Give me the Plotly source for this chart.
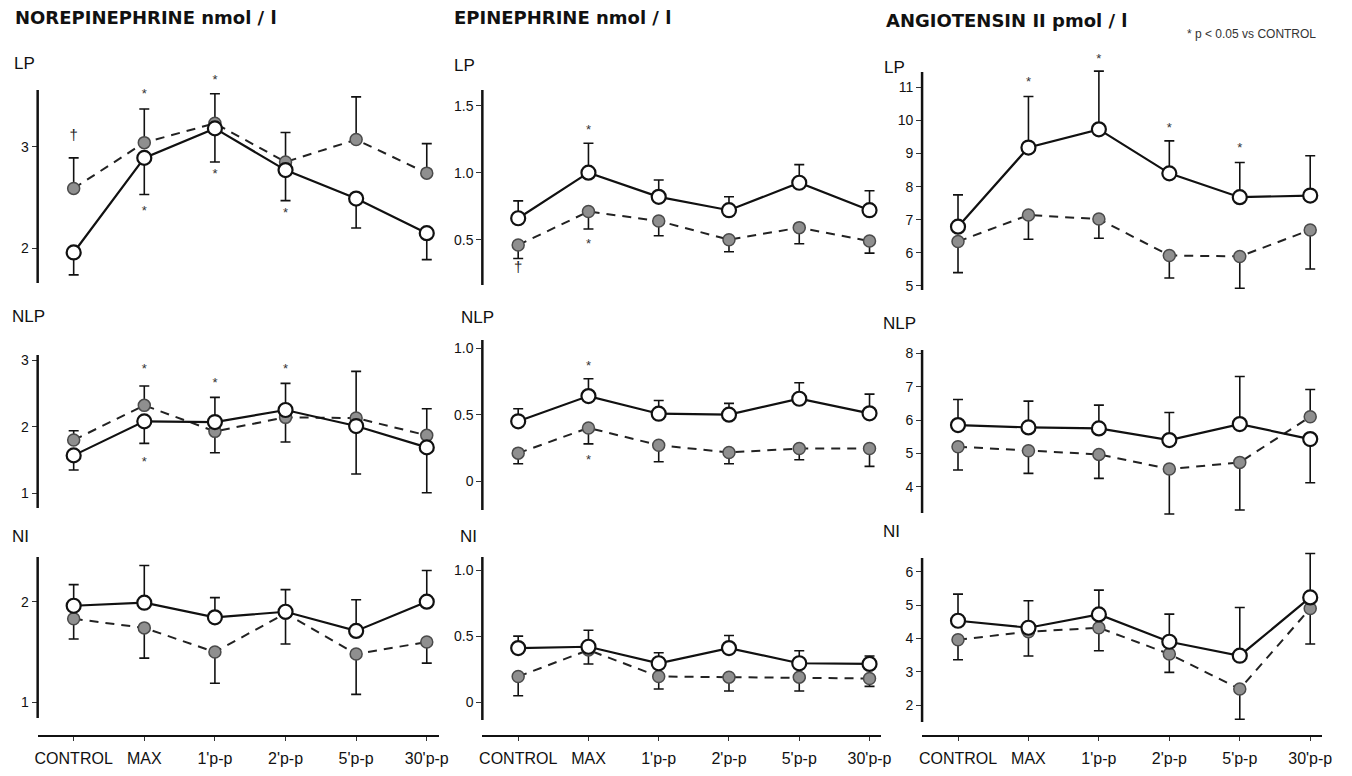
import plotly.graph_objects as go

# ---------------- data ----------------
categories = ["CONTROL", "MAX", "1'p-p", "2'p-p", "5'p-p", "30'p-p"]
hormones = ["NOREPINEPHRINE nmol / l", "EPINEPHRINE nmol / l", "ANGIOTENSIN II pmol / l"]
groups = ["LP", "NLP", "NI"]

# open circles (solid line); error: + = bar upward, - = bar downward
NE_LP_open = [1.96, 2.89, 3.18, 2.77, 2.49, 2.15]
NE_LP_open_err = [-0.22, -0.36, -0.33, -0.30, -0.29, -0.26]
NE_LP_fill = [2.59, 3.04, 3.23, 2.85, 3.07, 2.74]
NE_LP_fill_err = [0.30, 0.33, 0.29, 0.29, 0.42, 0.29]

EPI_LP_open = [0.66, 1.00, 0.82, 0.72, 0.925, 0.72]
EPI_LP_open_err = [0.13, 0.22, 0.125, 0.10, 0.135, 0.145]
EPI_LP_fill = [0.46, 0.71, 0.64, 0.50, 0.59, 0.49]
EPI_LP_fill_err = [-0.10, -0.13, -0.11, -0.09, -0.12, -0.09]

ANG_LP_open = [6.79, 9.18, 9.73, 8.40, 7.68, 7.73]
ANG_LP_open_err = [0.96, 1.54, 1.76, 0.98, 1.05, 1.20]
ANG_LP_fill = [6.34, 7.14, 7.02, 5.92, 5.89, 6.69]
ANG_LP_fill_err = [-0.94, -0.73, -0.58, -0.68, -0.96, -1.18]

NE_NLP_open = [1.57, 2.08, 2.07, 2.25, 2.01, 1.69]
NE_NLP_open_err = [-0.22, -0.33, 0.37, 0.40, -0.72, -0.68]
NE_NLP_fill = [1.80, 2.32, 1.93, 2.14, 2.13, 1.87]
NE_NLP_fill_err = [0.14, 0.29, -0.32, -0.37, 0.70, 0.40]

EPI_NLP_open = [0.45, 0.64, 0.507, 0.50, 0.62, 0.51]
EPI_NLP_open_err = [0.095, 0.13, 0.10, 0.085, 0.12, 0.145]
EPI_NLP_fill = [0.21, 0.40, 0.27, 0.215, 0.245, 0.245]
EPI_NLP_fill_err = [-0.08, -0.12, -0.125, -0.085, -0.085, -0.135]

ANG_NLP_open = [5.85, 5.78, 5.75, 5.40, 5.88, 5.43]
ANG_NLP_open_err = [0.77, 0.79, 0.70, 0.83, 1.43, -1.31]
ANG_NLP_fill = [5.20, 5.08, 4.97, 4.53, 4.73, 6.10]
ANG_NLP_fill_err = [-0.70, -0.68, -0.72, -1.35, -1.43, 0.82]

NE_NI_open = [1.96, 1.99, 1.845, 1.90, 1.71, 2.00]
NE_NI_open_err = [0.21, 0.37, 0.195, 0.22, 0.31, 0.31]
NE_NI_fill = [1.83, 1.74, 1.50, 1.885, 1.48, 1.60]
NE_NI_fill_err = [-0.20, -0.30, -0.31, -0.305, -0.40, -0.21]

EPI_NI_open = [0.41, 0.42, 0.295, 0.41, 0.295, 0.29]
EPI_NI_open_err = [0.09, 0.125, 0.08, 0.095, 0.095, 0.06]
EPI_NI_fill = [0.195, 0.395, 0.195, 0.19, 0.19, 0.18]
EPI_NI_fill_err = [-0.145, -0.105, -0.095, -0.105, -0.105, -0.06]

ANG_NI_open = [4.53, 4.32, 4.72, 3.90, 3.48, 5.23]
ANG_NI_open_err = [0.80, 0.81, 0.73, 0.83, 1.45, 1.32]
ANG_NI_fill = [3.96, 4.20, 4.32, 3.53, 2.48, 4.90]
ANG_NI_fill_err = [-0.60, -0.73, -0.69, -0.55, -0.91, -1.07]

# significance marks: (category index, y value)
NE_LP_star_x = [1, 1, 2, 2, 3]
NE_LP_star_y = [3.51, 2.36, 3.65, 2.72, 2.34]
NE_LP_dagger_x = [0]
NE_LP_dagger_y = [3.10]
EPI_LP_star_x = [1, 1]
EPI_LP_star_y = [1.31, 0.465]
EPI_LP_dagger_x = [0]
EPI_LP_dagger_y = [0.29]
ANG_LP_star_x = [1, 2, 3, 4]
ANG_LP_star_y = [11.14, 11.82, 9.76, 9.13]
NE_NLP_star_x = [1, 1, 2, 3]
NE_NLP_star_y = [2.86, 1.46, 2.65, 2.86]
EPI_NLP_star_x = [1, 1]
EPI_NLP_star_y = [0.864, 0.155]

# y tick values per panel (row-major)
NE_LP_ticks = [2, 3]
EPI_LP_ticks = [0.5, 1.0, 1.5]
ANG_LP_ticks = [5, 6, 7, 8, 9, 10, 11]
NE_NLP_ticks = [1, 2, 3]
EPI_NLP_ticks = [0, 0.5, 1.0]
ANG_NLP_ticks = [4, 5, 6, 7, 8]
NE_NI_ticks = [1, 2]
EPI_NI_ticks = [0, 0.5, 1.0]
ANG_NI_ticks = [2, 3, 4, 5, 6]

panels = [
    (NE_LP_open, NE_LP_open_err, NE_LP_fill, NE_LP_fill_err, NE_LP_ticks),
    (EPI_LP_open, EPI_LP_open_err, EPI_LP_fill, EPI_LP_fill_err, EPI_LP_ticks),
    (ANG_LP_open, ANG_LP_open_err, ANG_LP_fill, ANG_LP_fill_err, ANG_LP_ticks),
    (NE_NLP_open, NE_NLP_open_err, NE_NLP_fill, NE_NLP_fill_err, NE_NLP_ticks),
    (EPI_NLP_open, EPI_NLP_open_err, EPI_NLP_fill, EPI_NLP_fill_err, EPI_NLP_ticks),
    (ANG_NLP_open, ANG_NLP_open_err, ANG_NLP_fill, ANG_NLP_fill_err, ANG_NLP_ticks),
    (NE_NI_open, NE_NI_open_err, NE_NI_fill, NE_NI_fill_err, NE_NI_ticks),
    (EPI_NI_open, EPI_NI_open_err, EPI_NI_fill, EPI_NI_fill_err, EPI_NI_ticks),
    (ANG_NI_open, ANG_NI_open_err, ANG_NI_fill, ANG_NI_fill_err, ANG_NI_ticks),
]
stars = {0: (NE_LP_star_x, NE_LP_star_y), 1: (EPI_LP_star_x, EPI_LP_star_y),
         2: (ANG_LP_star_x, ANG_LP_star_y), 3: (NE_NLP_star_x, NE_NLP_star_y),
         4: (EPI_NLP_star_x, EPI_NLP_star_y)}
daggers = {0: (NE_LP_dagger_x, NE_LP_dagger_y), 1: (EPI_LP_dagger_x, EPI_LP_dagger_y)}

# ---------------- layout geometry (pixels) ----------------
W, H = 1352, 776
FONT = "Liberation Sans, Arial, Helvetica, sans-serif"


def fx(p):
    return p / W


def fy(p):
    return 1 - p / H


col_px = [(35, 440), (484, 887), (928, 1332)]
# (reference tick value, its pixel row, pixels per unit, axis line top px, axis line bottom px)
y_geom = [
    (3.0, 146.7, 101.7, 90, 283), (1.0, 172.7, 134.0, 90, 285), (11.0, 87.3, 33.1, 72, 290),
    (2.0, 426.7, 66.7, 355, 508), (0.0, 481.0, 132.7, 340, 510), (4.0, 486.7, 33.3, 350, 513),
    (2.0, 601.7, 100.7, 557, 718), (0.0, 702.3, 132.3, 557, 720), (2.0, 705.0, 33.3, 558, 722),
]
xaxis_line_px = 736


def fmt_tick(v, col):
    if col == 1:
        return "0" if v == 0 else f"{v:.1f}"
    return f"{v:g}"


fig = go.Figure()
layout = dict(
    width=W, height=H, margin=dict(l=0, r=0, t=0, b=0), autosize=False,
    paper_bgcolor="white", plot_bgcolor="rgba(0,0,0,0)", showlegend=False,
    font=dict(family=FONT, color="black"),
)
shapes = []

for k, (o, oe, f, fe, ticks) in enumerate(panels):
    r, c = divmod(k, 3)
    n = "" if k == 0 else str(k + 1)
    xs = list(range(len(categories)))
    # filled series, dashed
    fig.add_trace(go.Scatter(
        x=xs, y=f, xaxis="x" + n, yaxis="y" + n, mode="lines+markers",
        line=dict(color="#222", width=2, dash="9px,7px"),
        marker=dict(symbol="circle", size=12, color="#8f8f8f", line=dict(color="#4a4a4a", width=1.5)),
        error_y=dict(type="data", symmetric=False,
                     array=[max(e, 0) for e in fe], arrayminus=[max(-e, 0) for e in fe],
                     color="#111", thickness=1.6, width=5),
        cliponaxis=False, hoverinfo="skip"))
    # open series, solid
    fig.add_trace(go.Scatter(
        x=xs, y=o, xaxis="x" + n, yaxis="y" + n, mode="lines+markers",
        line=dict(color="#111", width=2.2),
        marker=dict(symbol="circle", size=14, color="white", line=dict(color="#111", width=2.2)),
        error_y=dict(type="data", symmetric=False,
                     array=[max(e, 0) for e in oe], arrayminus=[max(-e, 0) for e in oe],
                     color="#111", thickness=1.6, width=5),
        cliponaxis=False, hoverinfo="skip"))
    if k in stars:
        sx, sy = stars[k]
        fig.add_trace(go.Scatter(
            x=sx, y=sy, xaxis="x" + n, yaxis="y" + n, mode="text", text=["*"] * len(sx),
            textposition="middle center", textfont=dict(size=13, family=FONT, color="#333333"),
            cliponaxis=False, hoverinfo="skip"))
    if k in daggers:
        dx, dy = daggers[k]
        fig.add_trace(go.Scatter(
            x=dx, y=dy, xaxis="x" + n, yaxis="y" + n, mode="text", text=["†"] * len(dx),
            textposition="middle center", textfont=dict(size=15, family=FONT, color="#222222"),
            cliponaxis=False, hoverinfo="skip"))

    x0, x1 = col_px[c]
    v_ref, p_ref, s, ltop, lbot = y_geom[k]
    dtop, dbot = ltop - 40, lbot + 12
    hi = v_ref + (p_ref - dtop) / s
    lo = v_ref - (dbot - p_ref) / s
    xa = dict(domain=[fx(x0), fx(x1)], range=[-0.51, 5.17], showgrid=False, zeroline=False,
              fixedrange=True)
    if r == 2:
        xa.update(anchor="free", position=fy(xaxis_line_px), showline=True, linewidth=2.2,
                  linecolor="#111", ticks="outside", ticklen=4, tickwidth=1.2, tickcolor="#333",
                  tickvals=xs, ticktext=categories, ticklabelstandoff=4,
                  tickfont=dict(size=16, family=FONT, color="#111"))
    else:
        xa.update(visible=False, anchor="y" + n)
    ya = dict(domain=[fy(dbot), fy(dtop)], range=[lo, hi], anchor="x" + n, showgrid=False,
              zeroline=False, showline=False,
              ticks="outside", ticklen=5, tickwidth=1.3, tickcolor="#333",
              tickvals=ticks, ticktext=[fmt_tick(v, c) for v in ticks],
              tickfont=dict(size=14, family=FONT, color="#111"), fixedrange=True)
    layout["xaxis" + n] = xa
    layout["yaxis" + n] = ya
    # vertical axis line, limited to the drawn extent
    shapes.append(dict(type="line", xref="paper", yref="paper", x0=fx(x0), x1=fx(x0),
                       y0=fy(ltop), y1=fy(lbot), line=dict(color="#111", width=2.5)))

annotations = []
title_pos = [(10, 17), (453, 17), (890, 20)]
for (tx, ty), t in zip(title_pos, hormones):
    annotations.append(dict(text=f"<b>{t}</b>", x=fx(tx), y=fy(ty), xref="paper", yref="paper",
                            xanchor="left", yanchor="middle", showarrow=False,
                            font=dict(size=18, family="DejaVu Sans, sans-serif", color="#111")))
group_pos = [
    [(9, 63), (453, 65), (888, 67)],
    [(7, 316), (460, 317), (887, 323)],
    [(7, 536), (459, 536), (887, 531)],
]
for r, g in enumerate(groups):
    for c in range(3):
        gx, gy = group_pos[r][c]
        annotations.append(dict(text=g, x=fx(gx), y=fy(gy), xref="paper", yref="paper",
                                xanchor="left", yanchor="middle", showarrow=False,
                                font=dict(size=17, family=FONT, color="#111")))
annotations.append(dict(text="* p < 0.05 vs CONTROL", x=fx(1193), y=fy(34), xref="paper", yref="paper",
                        xanchor="left", yanchor="middle", showarrow=False,
                        font=dict(size=12, family=FONT, color="#333")))
layout["annotations"] = annotations
layout["shapes"] = shapes

fig.update_layout(**layout)
fig.write_html("out.html", config={"displayModeBar": False},
               post_script="document.body.style.margin='0';document.body.style.overflow='hidden';")
